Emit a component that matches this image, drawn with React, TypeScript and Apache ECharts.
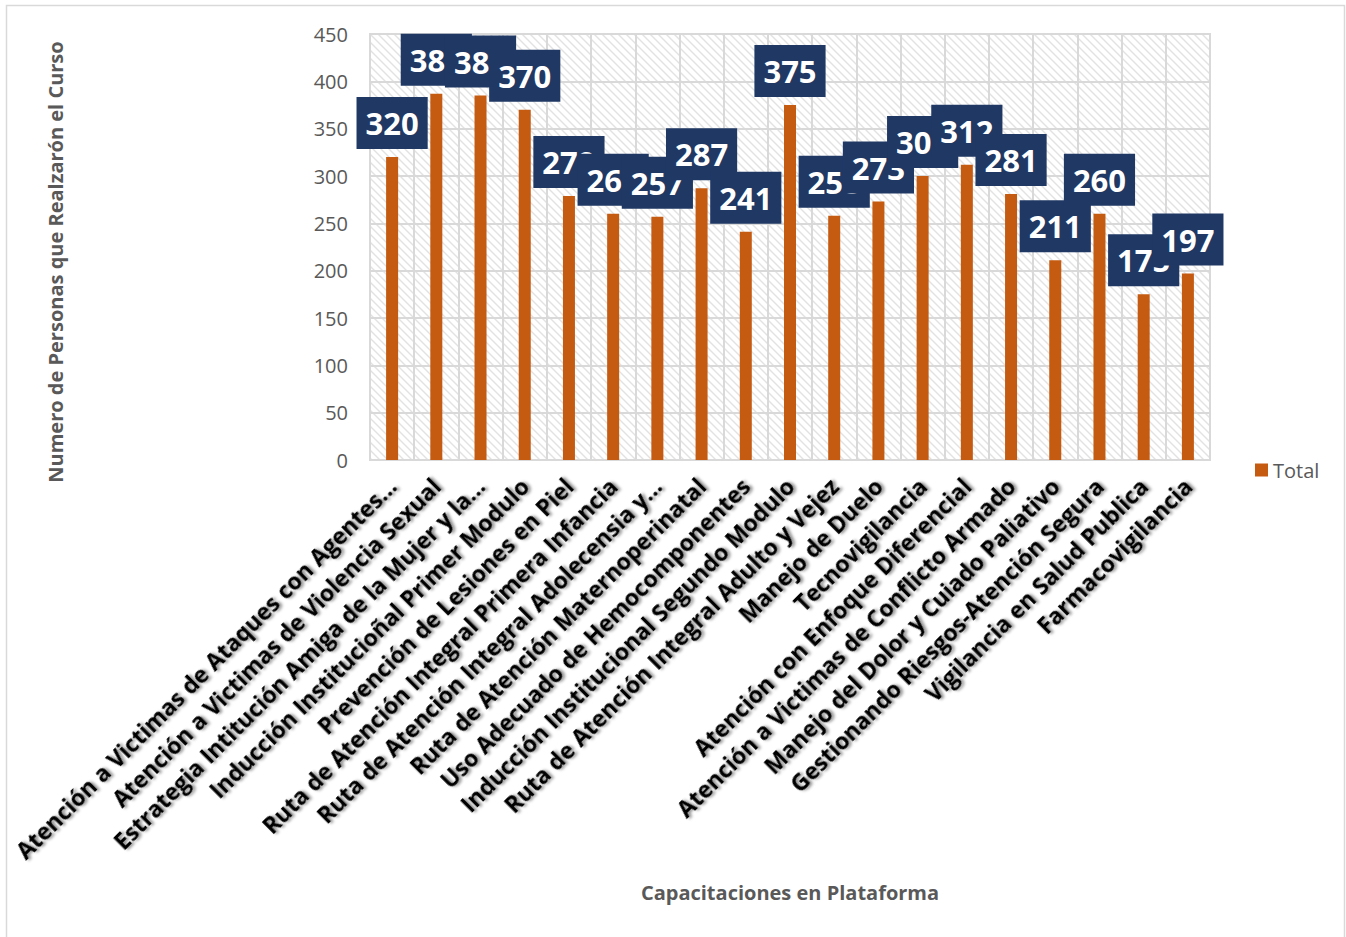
import React, { useEffect, useRef } from "react";
import * as echarts from "echarts";

const categories: string[] = [
  "Atención a Victimas de Ataques con Agentes...",
  "Atención a Victimas de Violencia Sexual",
  "Estrategia Intitución Amiga de la Mujer y la...",
  "Inducción Institucioñal Primer Modulo",
  "Prevención de Lesiones en Piel",
  "Ruta de Atención Integral Primera Infancia",
  "Ruta de Atención Integral Adolecensia y...",
  "Ruta de Atención Maternoperinatal",
  "Uso Adecuado de Hemocomponentes",
  "Inducción Institucional Segundo Modulo",
  "Ruta de Atención Integral Adulto y Vejez",
  "Manejo de Duelo",
  "Tecnovigilancia",
  "Atención con Enfoque Diferencial",
  "Atención a Victimas de Conflicto Armado",
  "Manejo del Dolor y Cuiado Paliativo",
  "Gestionando Riesgos-Atención Segura",
  "Vigilancia en Salud Publica",
  "Farmacovigilancia",
];

const totals: number[] = [
  320, 387, 385, 370, 279, 260, 257, 287, 241, 375, 258, 273, 300, 312, 281, 211, 260, 175, 197,
];

const seriesName = "Total";
const yAxisTitle = "Numero de Personas que Realzarón el Curso";
const xAxisTitle = "Capacitaciones en Plataforma";

function makeHatch(): HTMLCanvasElement {
  const c = document.createElement("canvas");
  c.width = 8;
  c.height = 8;
  const ctx = c.getContext("2d")!;
  ctx.fillStyle = "#ffffff";
  ctx.fillRect(0, 0, 8, 8);
  ctx.strokeStyle = "#e2e2e2";
  ctx.lineWidth = 1.4;
  ctx.beginPath();
  ctx.moveTo(-2, -2);
  ctx.lineTo(10, 10);
  ctx.moveTo(-2, 6);
  ctx.lineTo(2, 10);
  ctx.moveTo(6, -2);
  ctx.lineTo(10, 2);
  ctx.stroke();
  return c;
}

export default function App() {
  const ref = useRef<HTMLDivElement>(null);
  useEffect(() => {
    document.body.style.margin = "0";
    if (!ref.current) return;
    const chart = echarts.init(ref.current, null, { renderer: "svg" });
    const hatch = makeHatch();
    chart.setOption({
      animation: false,
      backgroundColor: "#ffffff",
      textStyle: { fontFamily: "Open Sans" },
      graphic: [
        {
          type: "rect",
          shape: { x: 6.5, y: 5.5, width: 1338, height: 950 },
          style: { fill: "none", stroke: "#d9d9d9", lineWidth: 1.5 },
          silent: true,
        },
        {
          type: "text",
          x: 55,
          y: 262,
          rotation: Math.PI / 2,
          style: {
            text: yAxisTitle,
            fill: "#595959",
            font: "bold 20px 'Open Sans'",
            textAlign: "center",
            textVerticalAlign: "middle",
          },
          silent: true,
        },
      ],
      legend: {
        show: true,
        left: 1250,
        top: 455,
        icon: "rect",
        itemWidth: 13,
        itemHeight: 13,
        itemGap: 6,
        textStyle: { fontSize: 20, color: "#595959", fontFamily: "Open Sans" },
        data: [seriesName],
      },
      grid: {
        left: 370,
        right: 136,
        top: 34,
        bottom: 477,
        show: true,
        backgroundColor: { image: hatch, repeat: "repeat" },
        borderColor: "#d9d9d9",
        borderWidth: 2,
      },
      xAxis: {
        type: "category",
        data: categories,
        name: xAxisTitle,
        nameLocation: "middle",
        nameGap: 422,
        nameTextStyle: { fontSize: 20, fontWeight: "bold", color: "#595959", fontFamily: "Open Sans" },
        axisLine: { show: true, lineStyle: { color: "#d9d9d9", width: 2 } },
        axisTick: { show: false },
        splitLine: { show: true, interval: 0, lineStyle: { color: "#d9d9d9", width: 2 } },
        axisLabel: {
          interval: 0,
          rotate: 45,
          margin: 22,
          fontSize: 23,
          fontWeight: "bold",
          color: "#000000",
          fontFamily: "Open Sans",
          textShadowColor: "rgba(0,0,0,0.45)",
          textShadowBlur: 3,
          textShadowOffsetX: 2,
          textShadowOffsetY: 2,
        },
      },
      yAxis: {
        type: "value",
        min: 0,
        max: 450,
        interval: 50,
        axisLine: { show: false },
        axisTick: { show: false },
        axisLabel: { fontSize: 20, color: "#595959", margin: 22, fontFamily: "Open Sans" },
        splitLine: { show: true, lineStyle: { color: "#d9d9d9", width: 2 } },
      },
      series: [
        {
          name: seriesName,
          type: "bar",
          data: totals,
          barWidth: 12,
          itemStyle: { color: "#c55a11" },
          label: {
            show: true,
            position: "top",
            distance: 8,
            color: "#ffffff",
            fontSize: 31,
            fontWeight: "bold",
            fontFamily: "Open Sans",
            backgroundColor: "#203864",
            padding: [6, 9, 6, 9],
            lineHeight: 40,
          },
        },
      ],
    });
    return () => chart.dispose();
  }, []);
  return <div ref={ref} style={{ width: 1346, height: 937 }} />;
}
